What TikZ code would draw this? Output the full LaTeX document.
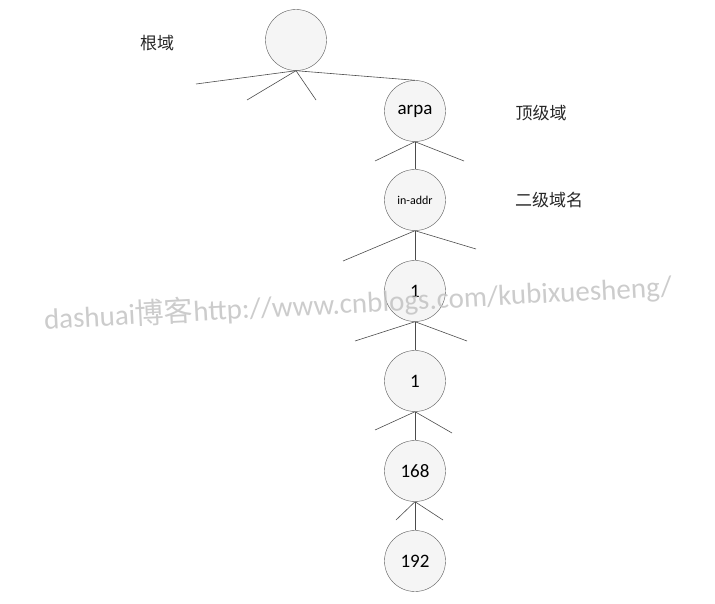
\documentclass[tikz,border=0pt]{standalone}
\usepackage{fontspec}
\setmainfont{Carlito}
\newfontfamily\cjk{Noto Sans CJK SC}
\usepackage{tikz}
\usetikzlibrary{positioning}

\begin{document}
\begin{tikzpicture}[x=1pt,y=-1pt,
  dom/.style={circle,draw=black!65,fill=black!4,minimum size=61pt,inner sep=0pt,font=\fontsize{19}{21}\selectfont},
  br/.style={draw=black!70,line width=0.6pt},
  lbl/.style={font=\cjk\fontsize{17}{20}\selectfont,text=black!85}]
 \useasboundingbox (0,0) rectangle (715,603);
 \node[dom] (root) at (296,40) {};
 \node[dom] (arpa) at (415,111) {arpa};
 \node[dom,font=\fontsize{12}{14}\selectfont] (inaddr) at (415,200) {in-addr};
 \node[dom] (onea) at (415,291) {1};
 \node[dom] (oneb) at (415,381) {1};
 \node[dom] (n168) at (415,471) {168};
 \node[dom] (n192) at (415,561) {192};
 \node[lbl] (lroot) at (157,43) {根域};
 \node[lbl] (ltop) at (541,113) {顶级域};
 \node[lbl] (lsec) at (549,200) {二级域名};
 \coordinate (r1) at (196,84);
 \coordinate (r2) at (247,100);
 \coordinate (r3) at (316,100);
 \coordinate (a1) at (375,161);
 \coordinate (a2) at (464,161);
 \coordinate (i1) at (343,261);
 \coordinate (i2) at (476,249);
 \coordinate (o1) at (355,341);
 \coordinate (o2) at (467,341);
 \coordinate (p1) at (375,430);
 \coordinate (p2) at (452,433);
 \coordinate (q1) at (396,520);
 \coordinate (q2) at (443,520);
 \draw[br] (root.south) -- (r1);
 \draw[br] (root.south) -- (r2);
 \draw[br] (root.south) -- (r3);
 \draw[br] (root.south) -- (arpa.north);
 \draw[br] (arpa.south) -- (a1);
 \draw[br] (arpa.south) -- (a2);
 \draw[br] (arpa.south) -- (inaddr.north);
 \draw[br] (inaddr.south) -- (i1);
 \draw[br] (inaddr.south) -- (i2);
 \draw[br] (inaddr.south) -- (onea.north);
 \draw[br] (onea.south) -- (o1);
 \draw[br] (onea.south) -- (o2);
 \draw[br] (onea.south) -- (oneb.north);
 \draw[br] (oneb.south) -- (p1);
 \draw[br] (oneb.south) -- (p2);
 \draw[br] (oneb.south) -- (n168.north);
 \draw[br] (n168.south) -- (q1);
 \draw[br] (n168.south) -- (q2);
 \draw[br] (n168.south) -- (n192.north);
 \node[text=black!25,opacity=0.8,rotate=3,font=\fontsize{29}{32}\selectfont] (mark) at (358,303) {dashuai{\cjk 博客}http://www.cnblogs.com/kubixuesheng/};
\end{tikzpicture}
\end{document}
